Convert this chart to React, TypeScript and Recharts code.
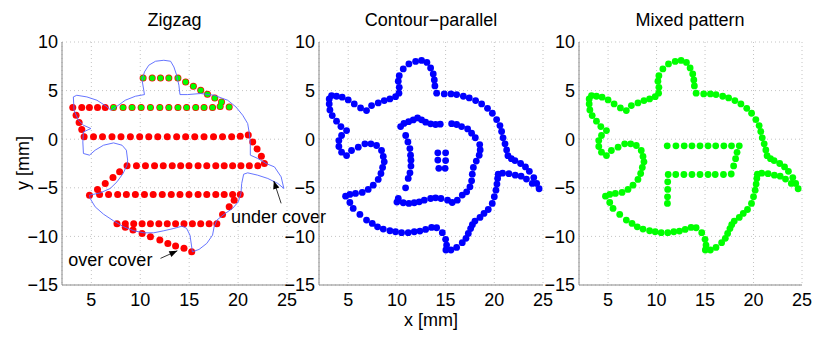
import React from 'react';
import { ScatterChart, Scatter, XAxis, YAxis, CartesianGrid } from 'recharts';

type P = [number, number];

const xTicks = [5, 10, 15, 20, 25];
const yTicks = [-15, -10, -5, 0, 5, 10];
const panelTitles = ['Zigzag', 'Contour\u2212parallel', 'Mixed pattern'];

// zigzag path, every dot (red)
const zigzagRed: P[] = [
  [10.29, 6.3], [11.22, 6.3], [12.07, 6.3], [12.92, 6.3], [13.85, 6.3],
  [14.64, 5.89], [15.43, 5.45], [16.18, 5.04], [16.87, 4.62], [17.62, 4.24], [18.31, 3.83], [19.09, 3.32],
  [3.1, 3.26], [4.02, 3.26], [4.8, 3.26], [5.63, 3.26], [6.42, 3.26], [7.27, 3.26], [8.24, 3.26], [9.16, 3.26],
  [10.09, 3.26], [11.04, 3.26], [12.0, 3.26], [12.92, 3.26], [13.85, 3.26], [14.74, 3.26], [15.67, 3.26],
  [16.52, 3.26], [17.39, 3.26], [18.17, 3.36],
  [3.44, 2.47], [3.75, 1.72], [4.02, 1.0],
  [4.26, 0.24], [5.22, 0.24], [6.14, 0.24], [7.11, 0.24], [8.03, 0.24], [8.99, 0.24], [9.94, 0.24], [10.87, 0.24],
  [11.79, 0.24], [12.76, 0.24], [13.72, 0.24], [14.64, 0.24], [15.57, 0.24], [16.52, 0.24], [17.49, 0.24],
  [18.41, 0.24], [19.34, 0.26], [20.22, 0.3], [21.04, 0.42],
  [21.5, -0.28], [21.94, -1.0], [22.38, -1.75],
  [22.69, -2.5], [22.01, -2.74], [21.15, -2.74], [20.29, -2.74], [19.44, -2.74], [18.58, -2.74], [17.72, -2.74],
  [16.8, -2.74], [15.91, -2.74], [14.98, -2.74], [14.13, -2.74], [13.27, -2.74], [12.35, -2.74], [11.46, -2.74],
  [10.53, -2.74], [9.61, -2.74], [8.65, -2.74],
  [7.89, -3.36], [7.21, -3.94], [6.42, -4.56], [5.63, -5.17],
  [4.81, -5.76], [5.84, -5.68], [6.76, -5.68], [7.69, -5.68], [8.58, -5.68], [9.5, -5.68], [10.43, -5.68],
  [11.32, -5.68], [12.25, -5.68], [13.17, -5.68], [14.06, -5.68], [14.98, -5.68], [15.91, -5.68], [16.8, -5.68],
  [17.72, -5.68], [18.58, -5.68], [19.44, -5.68], [20.22, -5.68],
  [19.6, -6.27], [19.09, -6.96], [18.41, -7.74],
  [17.83, -8.7], [17.04, -8.7], [16.18, -8.7], [15.33, -8.7], [14.47, -8.7], [13.61, -8.7], [12.76, -8.7],
  [11.9, -8.7], [11.04, -8.7], [10.19, -8.7], [9.33, -8.7], [8.47, -8.7], [7.62, -8.7],
  [8.47, -9.05], [9.26, -9.35], [10.19, -9.69], [11.04, -10.04], [12.0, -10.38], [12.82, -10.72],
  [13.61, -11.0], [14.47, -11.23], [15.26, -11.58],
];

// dots of the two top passes drawn again in green
const zigzagGreen: P[] = [
  [10.29, 6.3], [11.22, 6.3], [12.07, 6.3], [12.92, 6.3], [13.85, 6.3],
  [14.64, 5.89], [15.43, 5.45], [16.18, 5.04], [16.87, 4.62], [17.62, 4.24], [18.31, 3.83], [19.09, 3.32],
  [7.27, 3.26], [8.24, 3.26], [9.16, 3.26], [10.09, 3.26], [11.04, 3.26], [12.0, 3.26], [12.92, 3.26],
  [13.85, 3.26], [14.74, 3.26], [15.67, 3.26], [16.52, 3.26], [17.39, 3.26], [18.17, 3.36],
];

// part boundary (thin blue line)
const partOutline: P[] = [
  [10.43, 4.59], [10.19, 6.06], [10.43, 6.92], [10.87, 7.61], [11.56, 8.02], [12.41, 8.12], [13.1, 8.02],
  [13.44, 7.43], [13.72, 6.58], [13.95, 5.55], [14.06, 4.59], [14.82, 4.59], [16.18, 4.7], [17.55, 4.52],
  [18.93, 4.01], [19.78, 3.32], [20.47, 2.47], [20.98, 1.61], [21.15, 0.59], [21.25, -0.44], [21.25, -1.64],
  [22.01, -1.98], [22.86, -2.5], [23.72, -2.85], [24.4, -3.87], [24.68, -5.07], [24.06, -4.55], [23.04, -4.04],
  [22.0, -3.7], [20.98, -3.46], [20.57, -3.6], [20.37, -4.55], [20.29, -5.58], [20.02, -6.44], [19.44, -7.12],
  [18.58, -7.71], [17.83, -8.33], [17.55, -9.01], [17.39, -9.87], [16.8, -10.72], [16.01, -11.34],
  [15.33, -11.58], [15.23, -10.89], [15.08, -9.87], [14.74, -9.18], [14.3, -8.94], [13.44, -9.18],
  [12.41, -9.42], [11.38, -9.63], [10.36, -9.63], [9.33, -9.42], [8.3, -9.01], [7.27, -8.4], [6.24, -7.71],
  [5.39, -6.96], [4.88, -6.1], [4.81, -5.76], [5.91, -5.52], [6.93, -5.07], [7.62, -4.39], [8.24, -3.53],
  [8.65, -2.67], [8.71, -2.16], [8.58, -1.13], [8.14, -0.62], [7.27, -0.38], [6.24, -0.62], [5.39, -1.13],
  [4.81, -1.64], [4.19, -1.47], [4.13, -0.28], [4.19, 0.75], [4.95, 1.1], [4.19, 1.44], [3.68, 1.95],
  [3.23, 2.98], [3.16, 4.35], [3.51, 4.52], [4.54, 4.35], [5.57, 4.01], [6.52, 3.39], [7.0, 2.98],
  [7.62, 3.39], [8.47, 4.01], [9.5, 4.42], [10.43, 4.59],
];

// outer contour pass (shared by contour-parallel and mixed)
const outerContour: P[] = [
  [10.24, 5.34], [10.14, 5.96], [10.24, 6.54], [10.65, 7.23], [11.23, 7.74], [11.92, 8.0], [12.53, 8.1],
  [13.08, 7.9], [13.46, 7.33], [13.73, 6.71], [13.84, 6.1], [13.9, 5.48], [14.08, 4.73],
  [14.86, 4.66], [15.55, 4.66], [16.13, 4.59], [16.82, 4.42], [17.43, 4.25], [18.08, 3.97], [18.7, 3.63],
  [19.3, 3.18], [19.8, 2.67], [20.24, 2.02], [20.58, 1.4], [20.75, 0.79], [20.9, 0.14], [21.1, -0.48],
  [21.27, -1.1], [21.4, -1.7], [21.75, -2.0],
  [22.12, -2.2], [22.7, -2.5], [23.2, -2.85], [23.6, -3.3], [24.05, -3.95], [24.35, -4.55], [24.6, -5.1],
  [23.9, -4.55], [23.3, -4.1], [22.75, -3.8], [22.15, -3.7], [21.5, -3.55], [20.85, -3.5], [20.4, -3.6],
  [20.34, -4.04], [20.27, -4.62], [20.17, -5.24], [20.0, -5.92], [19.79, -6.61], [19.38, -7.23], [18.94, -7.64],
  [18.53, -8.05], [18.01, -8.42], [17.75, -8.8], [17.57, -9.2], [17.33, -9.69], [17.09, -10.2], [16.71, -10.65],
  [16.13, -11.13], [15.55, -11.4], [15.03, -11.4], [15.1, -10.89], [15.0, -10.3], [14.66, -9.62], [14.08, -9.11],
  [13.56, -9.08], [12.95, -9.28], [12.36, -9.45], [11.78, -9.52], [11.16, -9.62], [10.48, -9.62], [9.86, -9.52],
  [9.28, -9.42], [8.6, -9.25], [8.01, -9.01], [7.47, -8.66], [6.88, -8.32], [6.2, -7.74], [5.51, -7.12],
  [5.17, -6.51], [4.73, -5.86], [5.17, -5.68], [5.75, -5.58], [6.44, -5.48], [7.05, -5.17], [7.57, -4.73],
  [8.08, -4.14], [8.36, -3.53], [8.53, -2.91], [8.7, -2.33], [8.6, -1.78], [8.42, -1.16], [7.91, -0.65],
  [7.33, -0.48], [6.71, -0.48], [6.03, -0.82], [5.34, -1.16], [4.83, -1.68], [4.32, -1.34], [4.04, -0.75],
  [4.04, -0.14], [4.32, 0.38], [4.83, 0.89], [4.25, 1.3], [3.8, 1.85], [3.36, 2.43], [3.12, 3.01], [3.05, 3.63],
  [3.05, 4.14], [3.29, 4.49], [3.8, 4.42], [4.38, 4.32], [5.0, 4.04], [5.62, 3.63], [6.27, 3.22], [6.88, 2.95],
  [7.4, 3.46], [8.08, 3.73], [8.7, 3.97], [9.28, 4.14], [9.86, 4.38], [10.21, 4.73],
];

// second (inner) contour pass
const innerContour: P[] = [
  [10.38, 1.3], [10.72, 1.62], [11.2, 1.8], [11.68, 1.98], [12.12, 2.19], [12.53, 1.99], [12.95, 1.75],
  [13.46, 1.58], [13.97, 1.51], [14.45, 1.55],
  [15.62, 1.6], [16.13, 1.51], [16.64, 1.3], [17.26, 1.06], [17.67, 0.62], [18.05, 0.15], [18.5, -0.55],
  [18.55, -1.1], [18.45, -1.65], [18.15, -2.25], [17.85, -2.9], [17.74, -3.6], [17.67, -4.28], [17.5, -4.9],
  [17.16, -5.41], [16.71, -5.75], [16.2, -6.27], [15.68, -6.51], [15.2, -6.27], [14.52, -6.1], [13.97, -6.03],
  [13.46, -6.1], [12.81, -6.27], [12.29, -6.44], [11.78, -6.54], [11.23, -6.61], [10.65, -6.54], [10.0, -6.47],
  [10.14, -6.1], [10.89, -5.0], [11.16, -4.04], [11.34, -3.46], [11.44, -2.77], [11.44, -2.16], [11.4, -1.65],
  [11.33, -0.96], [11.13, -0.28], [10.9, 0.38],
];

const centreDots: P[] = [
  [14.2, -1.4], [15.0, -1.4], [14.2, -2.15], [15.0, -2.2], [14.3, -3.0], [14.95, -3.0],
];

// zigzag fill inside the mixed pattern
const mixedInner: P[] = [
  [11.1, -0.68], [12.0, -0.68], [12.85, -0.68], [13.65, -0.68], [14.48, -0.68], [15.31, -0.68], [16.1, -0.68],
  [16.94, -0.68], [17.73, -0.68], [18.53, -0.68],
  [18.3, -1.35], [18.15, -2.0], [17.95, -2.75], [17.7, -3.58],
  [16.9, -3.63], [16.05, -3.63], [15.31, -3.63], [14.48, -3.63], [13.65, -3.63], [12.82, -3.63], [11.98, -3.63],
  [11.2, -3.63],
  [11.15, -4.39], [11.15, -5.17], [11.13, -5.93], [11.12, -6.61],
];

const arrows = [
  { from: [24.4, -6.6], to: [23.65, -4.3] },
  { from: [12.07, -12.26], to: [13.79, -11.48] },
];
const notes = [
  { x: 19.27, y: -8.66, text: 'under cover' },
  { x: 2.65, y: -13.05, text: 'over cover' },
];

const FONT = '"Liberation Sans", Arial, Helvetica, sans-serif';
const toPts = (arr: P[]) => arr.map(([x, y]) => ({ x, y }));
const minus = (v: number) => String(v).replace('-', '\u2212');

const dot = (fill: string, r: number, stroke = 'none') => (props: any) => (
  <circle cx={props.cx} cy={props.cy} r={r} fill={fill} stroke={stroke} strokeWidth={0.8} />
);
const noDot = () => <g />;

const arrowHead = (props: any) => {
  const p = props.payload;
  if (!p || !p.head) return <g />;
  return (
    <polygon
      points="0,0 -8,-3.2 -8,3.2"
      transform={`translate(${props.cx},${props.cy}) rotate(${p.ang})`}
      fill="#000"
    />
  );
};

const noteText = (props: any) => (
  <text x={props.cx} y={props.cy} fontSize={18} fontFamily={FONT} fill="#000">
    {props.payload.text}
  </text>
);

const arrowData = (a: { from: number[]; to: number[] }) => {
  const ang = (Math.atan2(-(a.to[1] - a.from[1]), a.to[0] - a.from[0]) * 180) / Math.PI;
  return [
    { x: a.from[0], y: a.from[1] },
    { x: a.to[0], y: a.to[1], head: true, ang },
  ];
};

const Panel: React.FC<{ left: number; yw: number; plotW: number; right: number; children: React.ReactNode }> = ({
  left, yw, plotW, right, children,
}) => (
  <div style={{ position: 'absolute', left, top: 0 }}>
    <ScatterChart width={yw + plotW + right} height={339} margin={{ top: 42, right, bottom: 24, left: 0 }}>
      <CartesianGrid stroke="#c4c4c4" strokeDasharray="1 3" />
      <XAxis
        type="number"
        dataKey="x"
        domain={[2, 25]}
        ticks={xTicks}
        interval={0}
        height={30}
        tickLine={false}
        tickSize={0}
        tickMargin={8}
        axisLine={{ stroke: '#8a8a8a' }}
        tick={{ fontSize: 18, fill: '#000', fontFamily: FONT }}
      />
      <YAxis
        type="number"
        dataKey="y"
        domain={[-15, 10]}
        ticks={yTicks}
        interval={0}
        width={yw}
        tickLine={false}
        tickSize={0}
        tickMargin={4}
        tickFormatter={minus}
        axisLine={{ stroke: '#8a8a8a' }}
        tick={{ fontSize: 18, fill: '#000', fontFamily: FONT }}
      />
      {children}
    </ScatterChart>
  </div>
);

const label: React.CSSProperties = {
  position: 'absolute',
  fontFamily: FONT,
  fontSize: 18,
  lineHeight: '18px',
  color: '#000',
  whiteSpace: 'nowrap',
  textAlign: 'center',
};

export default function App() {
  const centres = [174.5, 431, 690];
  return (
    <div style={{ position: 'absolute', left: 0, top: 0, width: 817, height: 339, background: '#fff', overflow: 'hidden' }}>
      <Panel left={0} yw={62} plotW={225} right={58}>
        <Scatter data={toPts(zigzagRed)} shape={dot('#ff0000', 3.5)} isAnimationActive={false} />
        <Scatter data={toPts(zigzagGreen)} shape={dot('#00ff00', 2.8)} isAnimationActive={false} />
        <Scatter
          data={toPts(partOutline)}
          line={{ stroke: '#5565ff', strokeWidth: 0.9 }}
          lineType="joint"
          shape={noDot}
          isAnimationActive={false}
        />
        {arrows.map((a, i) => (
          <Scatter
            key={`arrow-${i}`}
            data={arrowData(a)}
            line={{ stroke: '#000', strokeWidth: 0.8 }}
            lineType="joint"
            shape={arrowHead}
            isAnimationActive={false}
          />
        ))}
        <Scatter data={notes} shape={noteText} isAnimationActive={false} />
      </Panel>
      <Panel left={279} yw={40} plotW={224} right={14}>
        <Scatter data={toPts(outerContour)} shape={dot('#0000ff', 3.4)} isAnimationActive={false} />
        <Scatter data={toPts(innerContour)} shape={dot('#0000ff', 3.4)} isAnimationActive={false} />
        <Scatter data={toPts(centreDots)} shape={dot('#0000ff', 3.4)} isAnimationActive={false} />
      </Panel>
      <Panel left={539} yw={40} plotW={223} right={14}>
        <Scatter data={toPts(outerContour)} shape={dot('#00ff00', 3.4)} isAnimationActive={false} />
        <Scatter data={toPts(mixedInner)} shape={dot('#00ff00', 3.4)} isAnimationActive={false} />
      </Panel>
      {panelTitles.map((t, i) => (
        <div key={t} style={{ ...label, left: centres[i] - 100, width: 200, top: 11 }}>
          {t}
        </div>
      ))}
      <div style={{ ...label, left: centres[1] - 100, width: 200, top: 311 }}>x [mm]</div>
      <div style={{ ...label, left: 23 - 50, width: 100, top: 163 - 9, transform: 'rotate(-90deg)' }}>y [mm]</div>
    </div>
  );
}
